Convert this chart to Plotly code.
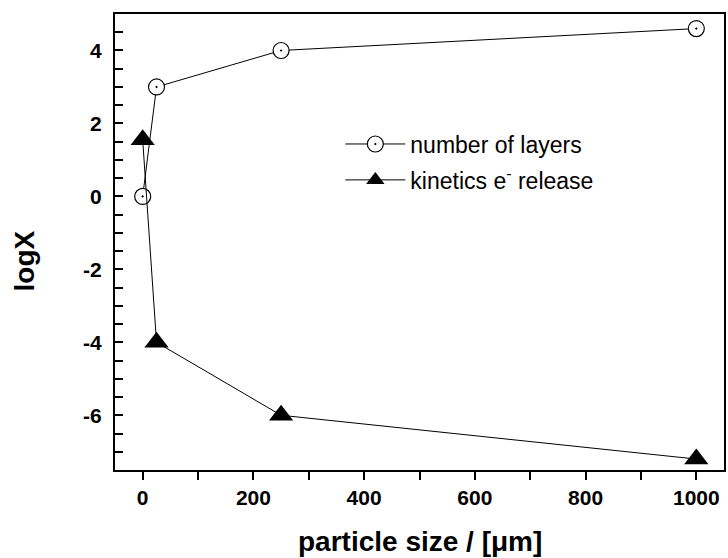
import plotly.graph_objects as go

size_layers = [0, 25, 250, 1000]
logx_layers = [0, 3, 4, 4.6]
size_kin = [0, 25, 250, 1000]
logx_kin = [1.55, -4, -6, -7.2]

y_tickvals = [-6, -4, -2, 0, 2, 4]
y_ticktext = ["-6", "-4", "-2", "0", "2", "4"]

x_title = "particle size / [μm]"
y_title = "logX"

FONT = "Arial, Liberation Sans, sans-serif"

fig = go.Figure()
fig.add_trace(go.Scatter(
    x=size_layers, y=logx_layers, mode="lines+markers", name="number of layers",
    legendgroup="a",
    line=dict(color="black", width=1),
    marker=dict(symbol="circle-dot", size=16, color="white",
                line=dict(color="black", width=1.2)),
))
fig.add_trace(go.Scatter(
    x=size_kin, y=logx_kin, mode="lines+markers", name="kinetics e<sup>-</sup> release",
    legendgroup="b",
    line=dict(color="black", width=1),
    marker=dict(symbol="triangle-up", size=21, color="black",
                line=dict(color="black", width=0)),
))

fig.update_layout(
    width=728, height=558,
    margin=dict(l=115, r=2, t=14, b=88),
    paper_bgcolor="white", plot_bgcolor="white",
    font=dict(family=FONT, color="black"),
    showlegend=True,
    legend=dict(x=0.37, y=0.762, xanchor="left", yanchor="top",
                font=dict(size=23, family=FONT, color="black"),
                bgcolor="rgba(0,0,0,0)", itemwidth=60,
                traceorder="grouped", tracegroupgap=3),
    xaxis=dict(
        range=[-50, 1050], dtick=200, tick0=0,
        showline=True, linecolor="black", linewidth=2, mirror=True,
        ticks="outside", ticklen=8, tickwidth=1.5, tickcolor="black",
        minor=dict(dtick=100, ticks="outside", ticklen=8, tickwidth=1.5, tickcolor="black"),
        showgrid=False, zeroline=False,
        tickfont=dict(size=21, family=FONT, weight="bold"),
    ),
    yaxis=dict(
        range=[-7.5, 5.0], tickmode="array", tickvals=y_tickvals, ticktext=y_ticktext,
        showline=True, linecolor="black", linewidth=2, mirror=True,
        ticks="inside", ticklen=8, tickwidth=1.5, tickcolor="black",
        minor=dict(dtick=0.5, tick0=0, ticks="inside", ticklen=8, tickwidth=1.5, tickcolor="black"),
        showgrid=False, zeroline=False, ticklabelstandoff=7,
        tickfont=dict(size=21, family=FONT, weight="bold"),
    ),
    annotations=[
        dict(text=x_title, xref="paper", yref="paper", x=0.501, y=-0.156,
             xanchor="center", yanchor="middle", showarrow=False,
             font=dict(size=28, family=FONT, weight="bold", color="black")),
        dict(text=y_title, xref="paper", yref="paper", x=-0.149, y=0.458,
             xanchor="center", yanchor="middle", showarrow=False, textangle=-90,
             font=dict(size=28, family=FONT, weight="bold", color="black")),
    ],
)

fig.write_html("out.html", config={"displayModeBar": False},
               post_script="document.body.style.margin='0px';")
